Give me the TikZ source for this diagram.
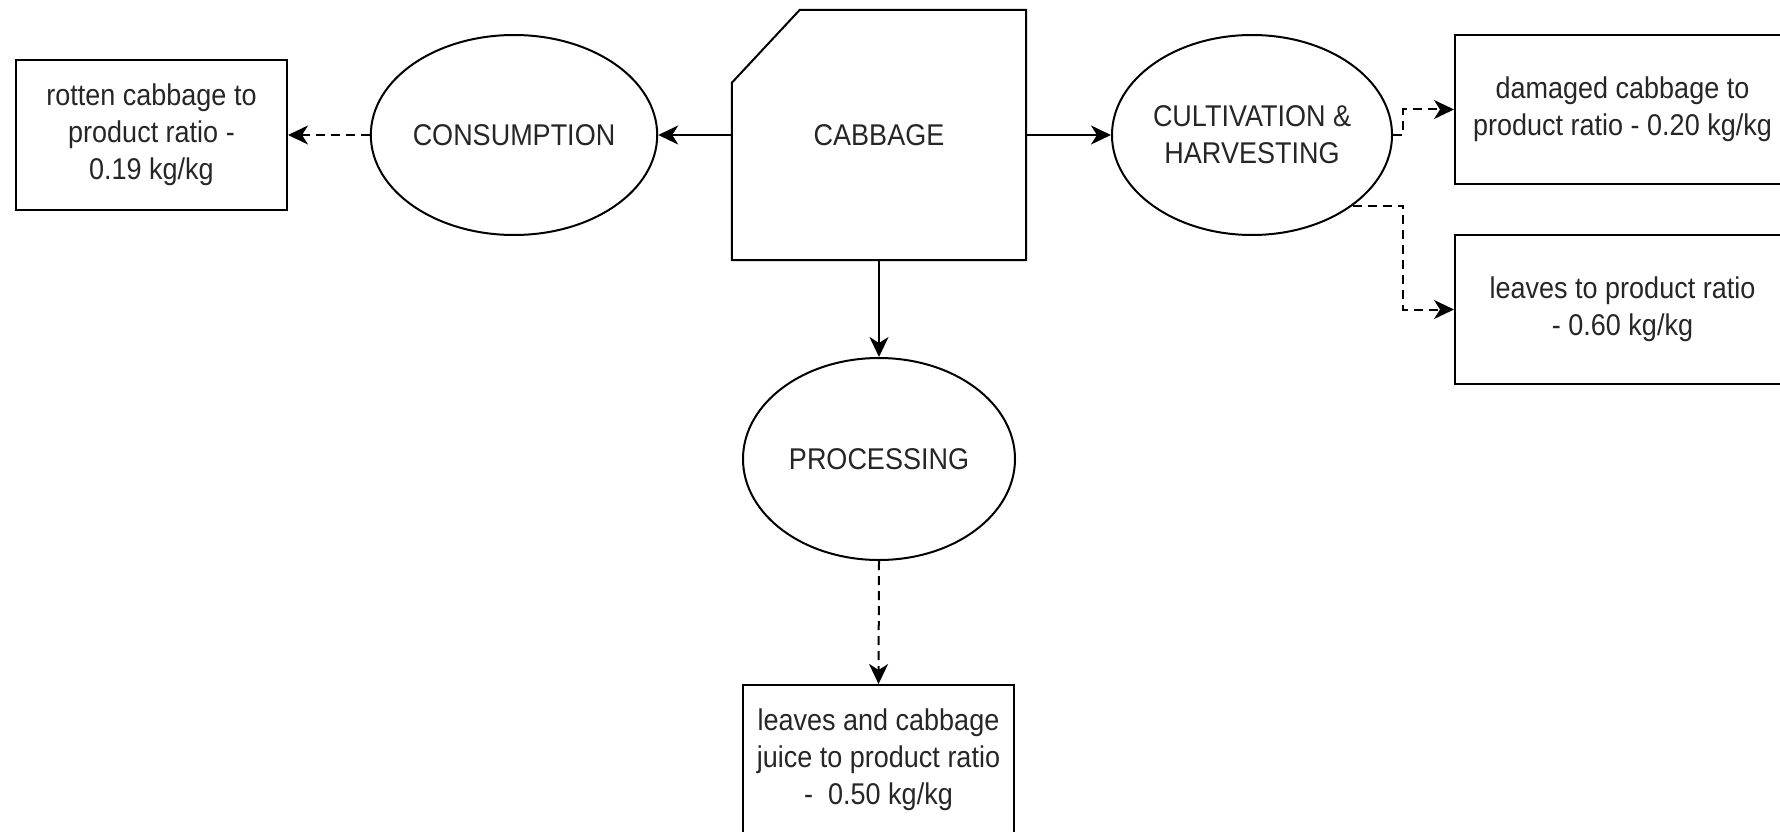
\documentclass[tikz,border=0pt]{standalone}
\usepackage{fontspec}
\setmainfont{Liberation Sans}[FakeStretch=0.9]
\usetikzlibrary{shapes.geometric,arrows.meta}
\begin{document}
\begin{tikzpicture}[x=1pt,y=-1pt,
  every node/.style={font=\fontsize{30}{37}\selectfont, align=center, inner sep=0pt, text=black!85},
  ln/.style={line width=2pt, draw=black},
  arr/.style={ln, -{Stealth[length=20pt,width=19pt,inset=6pt]}},
  darr/.style={arr, dash pattern=on 9pt off 6pt},
  oval/.style={ellipse, ln, minimum width=272pt, minimum height=200pt},
  outbox/.style={rectangle, ln, minimum height=150pt}]
\useasboundingbox (0,0) rectangle (1780,832);
\clip (0,0) rectangle (1780,832);
% nodes
\node[minimum width=294pt, minimum height=250pt] (cab) at (879,135) {CABBAGE};
\draw[ln, line join=miter] ([yshift=-73pt]cab.north west) -- ([xshift=68pt]cab.north west) -- (cab.north east) -- (cab.south east) -- (cab.south west) -- cycle;
\node[oval] (cons) at (514,135) {CONSUMPTION};
\node[oval] (cult) at (1252,135) {CULTIVATION \&\\HARVESTING};
\node[oval, minimum height=202pt] (proc) at (879,459) {PROCESSING};
\node[outbox, minimum width=271pt] (rot) at (151.5,135) {rotten cabbage to\\product ratio -\\0.19 kg/kg};
\node[outbox, minimum width=335pt, minimum height=149pt] (dam) at (1622.5,109.5) {damaged cabbage to\\product ratio - 0.20 kg/kg};
\node[outbox, minimum width=335pt, minimum height=149pt] (lea) at (1622.5,309.5) {leaves to product ratio\\- 0.60 kg/kg};
\node[outbox, minimum width=271pt] (pbox) at (878.5,760) {leaves and cabbage\\juice to product ratio\\-\ \ 0.50 kg/kg};
\coordinate (bend) at (1403,0);
% connectors
\draw[arr] (cab.west) -- (cons.east);
\draw[arr] (cab.east) -- (cult.west);
\draw[arr] (cab.south) -- (proc.north);
\draw[darr] (cons.west) -- (rot.east);
\draw[darr] (proc.south) -- (pbox.north);
\draw[darr] (cult.east) -- (cult.east -| bend) |- (dam.west);
\draw[darr] (cult.-35) -- (cult.-35 -| bend) |- (lea.west);
\end{tikzpicture}
\end{document}
